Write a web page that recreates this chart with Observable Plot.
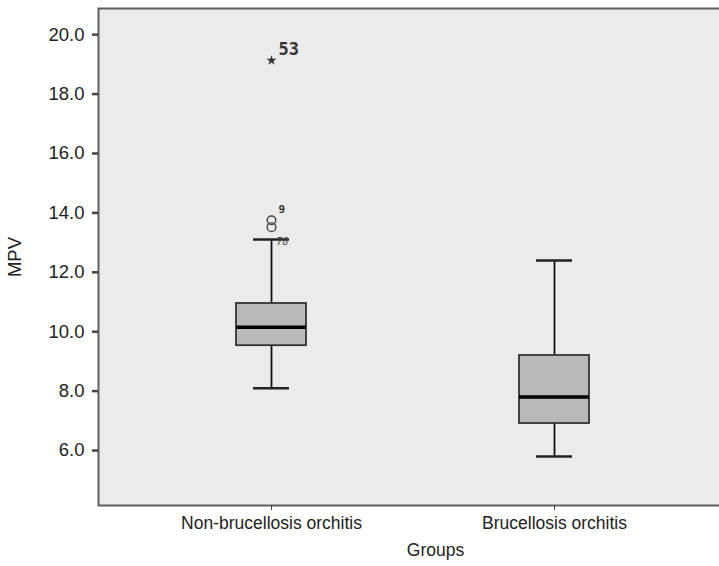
<!DOCTYPE html>
<html>
<head>
<meta charset="utf-8">
<script src="https://cdn.jsdelivr.net/npm/d3@7"></script>
<script src="https://cdn.jsdelivr.net/npm/@observablehq/plot@0.6"></script>
<style>
  html, body { margin: 0; padding: 0; background: #ffffff; }
  #chart svg { display: block; }
</style>
</head>
<body>
<div id="chart"></div>
<script>
// ---- data ----
const groups       = ["Non-brucellosis orchitis", "Brucellosis orchitis"];
const whiskerLow   = [8.1, 5.8];
const q1           = [9.53, 6.91];
const median       = [10.15, 7.8];
const q3           = [10.95, 9.2];
const whiskerHigh  = [13.1, 12.4];

const outlierGroup = ["Non-brucellosis orchitis", "Non-brucellosis orchitis", "Non-brucellosis orchitis"];
const outlierValue = [19.13, 13.75, 13.52];
const outlierKind  = ["extreme", "outlier", "outlier"];

const caseGroup    = ["Non-brucellosis orchitis", "Non-brucellosis orchitis", "Non-brucellosis orchitis"];
const caseValue    = [19.13, 13.75, 13.1];
const caseLabel    = ["53", "9", "78"];

const yTicks = [6, 8, 10, 12, 14, 16, 18, 20];

// ---- derived tables ----
const boxes = groups.map((g, i) => ({
  group: g, lo: whiskerLow[i], q1: q1[i], med: median[i], q3: q3[i], hi: whiskerHigh[i]
}));
const extremes = outlierGroup.map((g, i) => ({group: g, value: outlierValue[i], kind: outlierKind[i]}))
  .filter(d => d.kind === "extreme");
const outliers = outlierGroup.map((g, i) => ({group: g, value: outlierValue[i], kind: outlierKind[i]}))
  .filter(d => d.kind === "outlier");
const cases = caseGroup.map((g, i) => ({group: g, value: caseValue[i], label: caseLabel[i]}));

const font = "'Liberation Sans', Arial, Helvetica, sans-serif";

const chart = Plot.plot({
  width: 719,
  height: 566,
  marginTop: 8,
  marginBottom: 61,
  marginLeft: 98,
  marginRight: -53,
  style: {fontFamily: font, fontSize: "18px", color: "#222", background: "#ffffff"},
  x: {type: "band", domain: groups, range: [236, 589], paddingInner: 0.7527, paddingOuter: 0},
  y: {domain: [4.15, 20.88]},
  marks: [
    Plot.frame({fill: "#ebebeb", stroke: "#5e5e5e", strokeWidth: 2}),
    Plot.axisY({ticks: yTicks, tickFormat: d3.format(".1f"), tickSize: 6, tickPadding: 8,
      strokeWidth: 2.5, stroke: "#444", fontSize: 18.5, label: "MPV", labelAnchor: "center",
      labelOffset: 91, labelArrow: "none"}),
    Plot.axisX({tickSize: 5, tickPadding: 6, stroke: "#444", fontSize: 17.5,
      label: "Groups", labelAnchor: "center", labelOffset: 50, labelArrow: "none"}),
    // whiskers
    Plot.ruleX(boxes, {x: "group", y1: "lo", y2: "q1", stroke: "#111", strokeWidth: 1.8}),
    Plot.ruleX(boxes, {x: "group", y1: "q3", y2: "hi", stroke: "#111", strokeWidth: 1.8}),
    Plot.tickY(boxes, {x: "group", y: "lo", insetLeft: 17, insetRight: 17, stroke: "#222", strokeWidth: 2.5}),
    Plot.tickY(boxes, {x: "group", y: "hi", insetLeft: 17, insetRight: 17, stroke: "#222", strokeWidth: 2.5}),
    // boxes
    Plot.barY(boxes, {x: "group", y1: "q1", y2: "q3", fill: "#b9b9b9", stroke: "#333", strokeWidth: 1.8}),
    Plot.tickY(boxes, {x: "group", y: "med", stroke: "#000", strokeWidth: 3.5}),
    // outliers
    Plot.dot(outliers, {x: "group", y: "value", r: 4.3, stroke: "#444", strokeWidth: 1.4, fill: "none"}),
    Plot.dot(extremes, {x: "group", y: "value", symbol: "star", r: 3.2, fill: "#333"}),
    // case labels
    Plot.text(cases.filter(d => d.label === "53"), {x: "group", y: "value", text: "label",
      textAnchor: "start", dx: 7, dy: -11, fontSize: 17, fontWeight: "bold",
      fontFamily: "'DejaVu Sans Mono', monospace", fill: "#333"}),
    Plot.text(cases.filter(d => d.label === "9"), {x: "group", y: "value", text: "label",
      textAnchor: "start", dx: 7, dy: -11, fontSize: 11, fontWeight: "bold",
      fontFamily: "'DejaVu Sans Mono', monospace", fill: "#333"}),
    Plot.text(cases.filter(d => d.label === "78"), {x: "group", y: "value", text: "label",
      textAnchor: "start", dx: 5, dy: 2, fontSize: 10, fontStyle: "italic",
      fontFamily: "'DejaVu Sans Mono', monospace", fill: "#444"})
  ]
});

document.getElementById("chart").appendChild(chart);
</script>
</body>
</html>
